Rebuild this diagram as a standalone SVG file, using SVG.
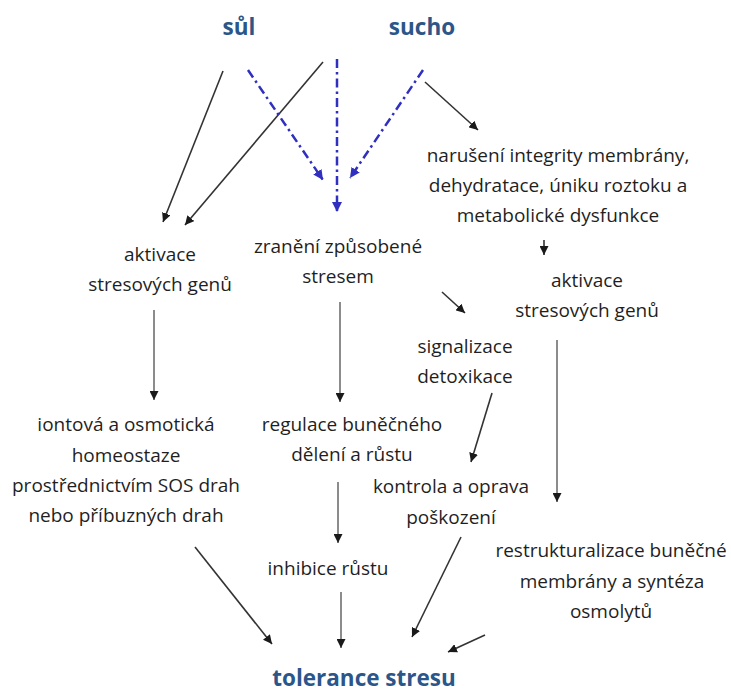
<svg xmlns="http://www.w3.org/2000/svg" width="731" height="693" viewBox="0 0 731 693">
<defs>
<style>
.t{font-family:"Open Sans","Noto Sans","Liberation Sans",sans-serif;font-size:19px;fill:#1f1f1f;text-anchor:middle}
.h{font-family:"Open Sans","Noto Sans","Liberation Sans",sans-serif;font-size:22.5px;font-weight:bold;fill:#2c5689;text-anchor:middle}
.a{stroke:#333333;stroke-width:1.6;fill:none;marker-end:url(#ah)}
.g{stroke:#666666;stroke-width:1.5;fill:none;marker-end:url(#ah)}
.b{stroke:#3030c0;stroke-width:2.5;fill:none;stroke-dasharray:9 4 2.5 4;marker-end:url(#bh)}
</style>
<marker id="ah" viewBox="0 0 10 10" refX="10" refY="5" markerWidth="9" markerHeight="9" markerUnits="userSpaceOnUse" orient="auto">
<path d="M0,0 L10,5 L0,10 z" fill="#1a1a1a"/>
</marker>
<marker id="bh" viewBox="0 0 10 10" refX="10" refY="5" markerWidth="10" markerHeight="10" markerUnits="userSpaceOnUse" orient="auto">
<path d="M0,0 L10,5 L0,10 z" fill="#3030c0"/>
</marker>
</defs>
<rect width="731" height="693" fill="#ffffff"/>

<g id="connectors">
<line class="a" x1="223" y1="71" x2="163" y2="222"/>
<line class="a" x1="323" y1="62" x2="185" y2="225"/>
<line class="b" x1="248" y1="70" x2="323" y2="180"/>
<line class="b" x1="337" y1="59" x2="337" y2="212"/>
<line class="b" x1="423" y1="70" x2="350" y2="178"/>
<line class="a" x1="425" y1="82" x2="478" y2="130"/>
<line class="a" x1="544" y1="240" x2="544" y2="255"/>
<line class="a" x1="442" y1="292" x2="465" y2="313"/>
<line class="g" x1="154" y1="310" x2="154" y2="400"/>
<line class="g" x1="340" y1="302" x2="340" y2="402"/>
<line class="g" x1="557" y1="340" x2="557" y2="502"/>
<line class="a" x1="492" y1="393" x2="471" y2="462"/>
<line class="g" x1="338" y1="482" x2="338" y2="543"/>
<line class="a" x1="195" y1="547" x2="272" y2="644"/>
<line class="g" x1="341" y1="592" x2="341" y2="648"/>
<line class="a" x1="461" y1="537" x2="412" y2="637"/>
<line class="a" x1="485" y1="635" x2="448" y2="652"/>
</g>

<g id="sul"><text class="h" x="239" y="35">sůl</text></g>
<g id="sucho"><text class="h" x="422" y="35">sucho</text></g>

<g id="naruseni">
<text class="t" x="558" y="162">narušení integrity membrány,</text>
<text class="t" x="558" y="192">dehydratace, úniku roztoku a</text>
<text class="t" x="558" y="222">metabolické dysfunkce</text>
</g>

<g id="aktivace-left">
<text class="t" x="160" y="261">aktivace</text>
<text class="t" x="160" y="291">stresových genů</text>
</g>

<g id="zraneni">
<text class="t" x="338" y="253">zranění způsobené</text>
<text class="t" x="338" y="283">stresem</text>
</g>

<g id="aktivace-right">
<text class="t" x="587" y="287">aktivace</text>
<text class="t" x="587" y="317">stresových genů</text>
</g>

<g id="signalizace">
<text class="t" x="465" y="353">signalizace</text>
<text class="t" x="465" y="383">detoxikace</text>
</g>

<g id="iontova">
<text class="t" x="126" y="431">iontová a osmotická</text>
<text class="t" x="126" y="462">homeostaze</text>
<text class="t" x="126" y="492">prostřednictvím SOS drah</text>
<text class="t" x="126" y="522">nebo příbuzných drah</text>
</g>

<g id="regulace">
<text class="t" x="352" y="431">regulace buněčného</text>
<text class="t" x="352" y="461">dělení a růstu</text>
</g>

<g id="kontrola">
<text class="t" x="451" y="493">kontrola a oprava</text>
<text class="t" x="451" y="524">poškození</text>
</g>

<g id="restrukturalizace">
<text class="t" x="611" y="557">restrukturalizace buněčné</text>
<text class="t" x="612" y="588">membrány a syntéza</text>
<text class="t" x="611" y="618">osmolytů</text>
</g>

<g id="inhibice"><text class="t" x="328" y="575">inhibice růstu</text></g>

<g id="tolerance"><text class="h" x="364" y="686">tolerance stresu</text></g>
</svg>
